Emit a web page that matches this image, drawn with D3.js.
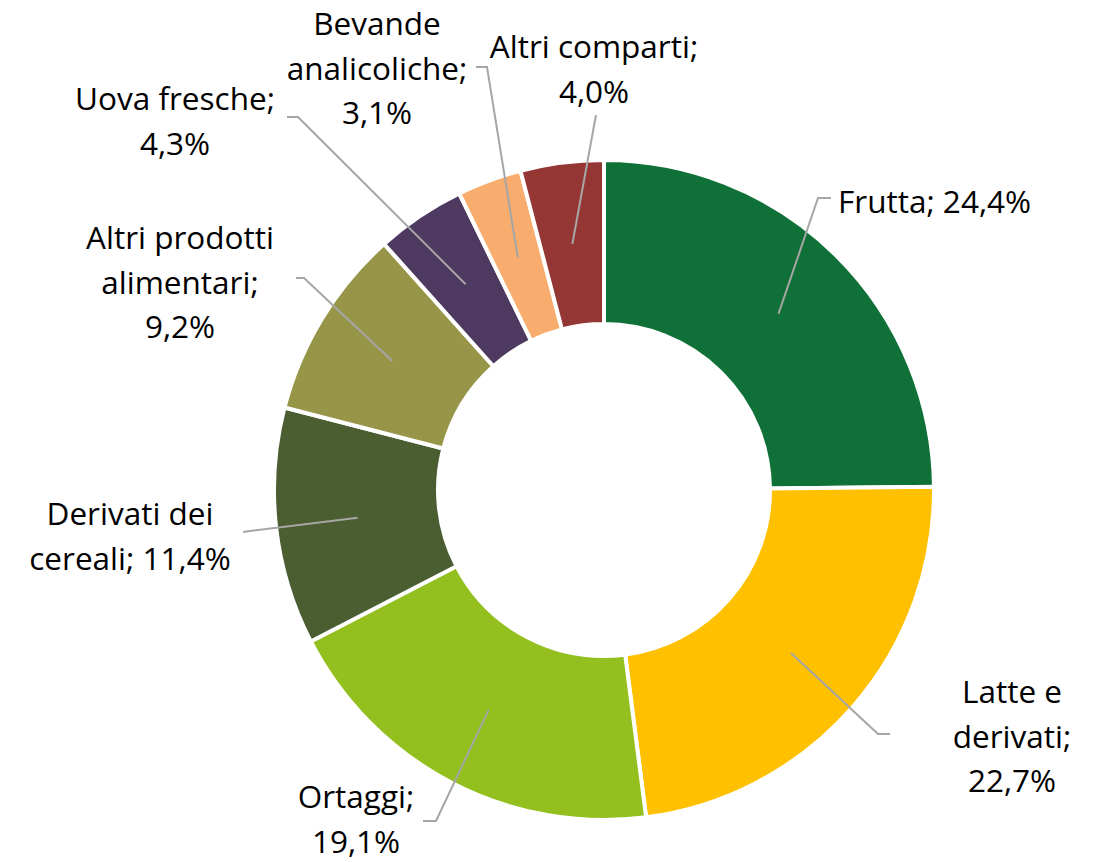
<!DOCTYPE html>
<html>
<head>
<meta charset="utf-8">
<script src="https://cdn.jsdelivr.net/npm/d3@7"></script>
<style>
  body { margin: 0; background: #fff; }
  text { font-family: "Open Sans", sans-serif; font-size: 31.5px; fill: #000; }
</style>
</head>
<body>
<script>
// data (percentages as printed)
const categories = ["Frutta", "Latte e derivati", "Ortaggi", "Derivati dei cereali",
  "Altri prodotti alimentari", "Uova fresche", "Bevande analicoliche", "Altri comparti"];
const values = [24.4, 22.7, 19.1, 11.4, 9.2, 4.3, 3.1, 4.0];
const valueLabels = ["24,4%", "22,7%", "19,1%", "11,4%", "9,2%", "4,3%", "3,1%", "4,0%"];
const colors = ["#0f7137", "#ffc000", "#93c01f", "#4a5e31", "#969548", "#4e3a60", "#f8ad6e", "#943634"];

// label text lines and placement
const labelLines = [
  ["Frutta; 24,4%"],
  ["Latte e", "derivati;", "22,7%"],
  ["Ortaggi;", "19,1%"],
  ["Derivati dei", "cereali; 11,4%"],
  ["Altri prodotti", "alimentari;", "9,2%"],
  ["Uova fresche;", "4,3%"],
  ["Bevande", "analicoliche;", "3,1%"],
  ["Altri comparti;", "4,0%"]
];
const labelPos = [
  {x: 838, y: 200, anchor: "start", bend: [818, 198], end: [831, 198]},
  {x: 1012, y: 690, anchor: "middle", bend: [878, 734], end: [890, 734]},
  {x: 356, y: 795, anchor: "middle", bend: [436, 821], end: [423, 821]},
  {x: 130, y: 512, anchor: "middle", bend: [250, 531], end: [243, 532]},
  {x: 180, y: 236, anchor: "middle", bend: [304, 278], end: [296, 278]},
  {x: 175, y: 97, anchor: "middle", bend: [298, 117], end: [287, 117]},
  {x: 377, y: 22, anchor: "middle", bend: [487, 67], end: [476, 67]},
  {x: 594, y: 45, anchor: "middle", bend: [596, 115], end: [596, 115]}
];

const width = 1102, height = 862;
const cx = 604, cy = 490, outerR = 330, innerR = 166;
const lineH = 44.5;

const svg = d3.select("body").append("svg")
  .attr("width", width)
  .attr("height", height);

const data = categories.map((c, i) => ({name: c, value: values[i], i: i}));

const pie = d3.pie().sort(null).value(d => d.value);
const arc = d3.arc().innerRadius(innerR).outerRadius(outerR);
const arcs = pie(data);

const g = svg.append("g").attr("transform", `translate(${cx},${cy})`);

g.selectAll("path.slice")
  .data(arcs)
  .enter().append("path")
  .attr("class", "slice")
  .attr("d", arc)
  .attr("fill", d => colors[d.data.i])
  .attr("stroke", "#fff")
  .attr("stroke-width", 4)
  .attr("stroke-linejoin", "miter");

// leader lines from slice centroid to the label
g.selectAll("polyline.leader")
  .data(arcs)
  .enter().append("polyline")
  .attr("class", "leader")
  .attr("points", d => {
    const c = arc.centroid(d);
    const p = labelPos[d.data.i];
    return [c, [p.bend[0] - cx, p.bend[1] - cy], [p.end[0] - cx, p.end[1] - cy]]
      .map(q => q.join(",")).join(" ");
  })
  .attr("fill", "none")
  .attr("stroke", "#a6a6a6")
  .attr("stroke-width", 2);

// labels
labelLines.forEach((lines, i) => {
  const p = labelPos[i];
  const t = svg.append("text")
    .attr("text-anchor", p.anchor)
    .attr("dominant-baseline", "central");
  lines.forEach((ln, k) => {
    t.append("tspan")
      .attr("x", p.x)
      .attr("y", p.y + k * lineH)
      .text(ln);
  });
});
</script>
</body>
</html>
